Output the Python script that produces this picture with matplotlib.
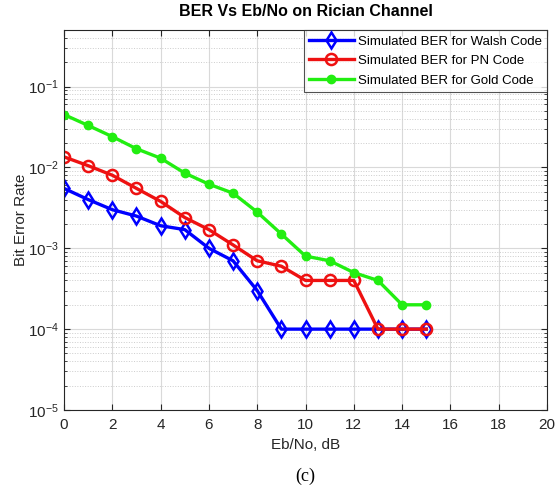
import numpy as np
import matplotlib.pyplot as plt
from matplotlib.ticker import LogLocator, NullFormatter

plt.rcParams['font.family'] = ['Liberation Sans', 'DejaVu Sans']

ebno = list(range(16))
ber_walsh = [5.5e-3, 4e-3, 3e-3, 2.5e-3, 1.9e-3, 1.7e-3, 1e-3, 7e-4,
             3e-4, 1e-4, 1e-4, 1e-4, 1e-4, 1e-4, 1e-4, 1e-4]
ber_pn = [1.35e-2, 1.05e-2, 8e-3, 5.5e-3, 3.8e-3, 2.4e-3, 1.7e-3, 1.1e-3,
          7e-4, 6e-4, 4e-4, 4e-4, 4e-4, 1e-4, 1e-4, 1e-4]
ber_gold = [4.5e-2, 3.3e-2, 2.4e-2, 1.7e-2, 1.3e-2, 8.5e-3, 6.2e-3, 4.8e-3,
            2.8e-3, 1.5e-3, 8e-4, 7e-4, 5e-4, 4e-4, 2e-4, 2e-4]
labels = ['Simulated BER for Walsh Code', 'Simulated BER for PN Code',
          'Simulated BER for Gold Code']

fig = plt.figure(figsize=(5.58, 4.88), dpi=100)
ax = fig.add_axes([64/558, 1-410/488, (547-64)/558, (410-30)/488])

ax.semilogy(ebno, ber_walsh, color='#0000ff', lw=2.4, marker='d', ms=8,
            mfc='none', mew=1.8, label=labels[0])
ax.semilogy(ebno, ber_pn, color='#ee1111', lw=2.4, marker='o', ms=8,
            mfc='none', mew=1.8, label=labels[1])
ax.semilogy(ebno, ber_gold, color='#22ee11', lw=2.4, marker='o', ms=6,
            label=labels[2])

ax.set_xlim(0, 20)
ax.set_ylim(1e-5, 0.5)
ax.set_xticks(range(0, 21, 2))
ax.set_yticks([1e-5, 1e-4, 1e-3, 1e-2, 1e-1])
ax.yaxis.set_minor_locator(LogLocator(base=10, subs=np.arange(2, 10), numticks=20))
ax.yaxis.set_minor_formatter(NullFormatter())

ax.grid(True, which='major', color='#d9d9d9', lw=0.8)
ax.grid(True, which='minor', axis='y', color='#cccccc', lw=0.7, ls=':')
ax.set_axisbelow(True)
ax.tick_params(which='both', direction='in', top=True, right=True,
               labelsize=11, colors='#262626', length=4)
ax.tick_params(axis='x', pad=6)
ax.tick_params(which='minor', length=2)
for s in ax.spines.values():
    s.set_color('#262626')
    s.set_linewidth(0.8)

ax.set_title('BER Vs Eb/No on Rician Channel', fontsize=11.5, fontweight='bold', pad=10)
ax.set_xlabel('Eb/No, dB', fontsize=11, color='#262626', labelpad=4)
ax.set_ylabel('Bit Error Rate', fontsize=11, color='#262626', labelpad=0)

leg = ax.legend(loc='upper right', fontsize=9.5, frameon=True, fancybox=False,
                borderpad=0.4, labelspacing=0.55, handlelength=3.4,
                handletextpad=0.3, borderaxespad=0)
leg.get_frame().set_edgecolor('#262626')
leg.get_frame().set_linewidth(0.8)

fig.text(305/558, 1-476/488, '(c)', family='Liberation Serif', fontsize=13,
         ha='center', va='center')

fig.savefig('out.png', dpi=100)
